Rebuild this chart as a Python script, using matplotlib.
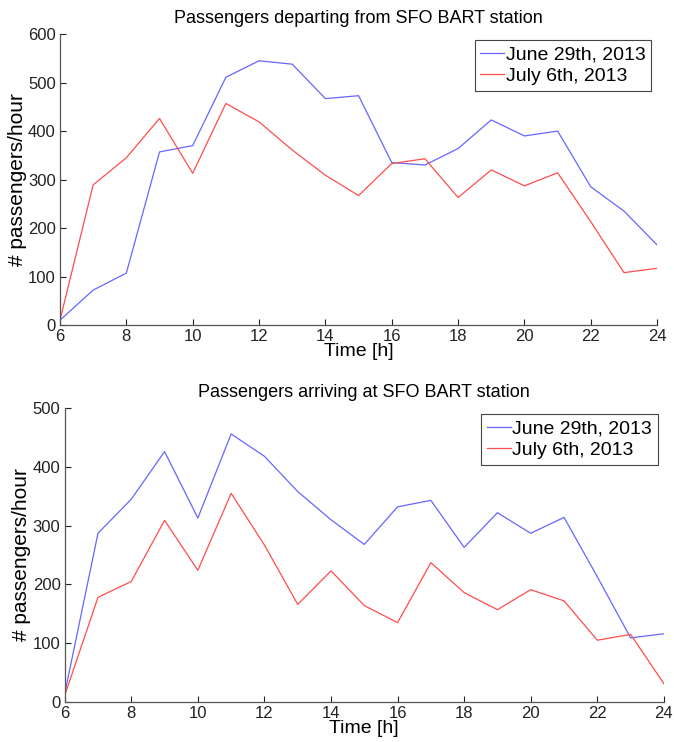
import matplotlib
matplotlib.use("Agg")
import matplotlib.pyplot as plt

plt.rcParams['font.family'] = ['Liberation Sans Narrow', 'Liberation Sans', 'DejaVu Sans']

hours = list(range(6, 25))

# departing from SFO
dep_june = [10, 72, 107, 357, 370, 511, 545, 538, 467, 473, 335, 330, 364, 423, 390, 400, 285, 235, 165]
dep_july = [10, 289, 345, 426, 313, 457, 419, 361, 309, 267, 333, 343, 263, 320, 287, 314, 213, 108, 117]

# arriving at SFO
arr_june = [14, 287, 345, 426, 313, 456, 418, 358, 310, 268, 332, 343, 263, 322, 287, 314, 213, 109, 116]
arr_july = [11, 178, 205, 309, 224, 355, 267, 166, 223, 164, 135, 237, 186, 157, 191, 172, 105, 115, 31]

titles = ["Passengers departing from SFO BART station",
          "Passengers arriving at SFO BART station"]
labels = ["June 29th, 2013", "July 6th, 2013"]
ymax = [600, 500]

blue = "#6666ff"
red = "#ff4d4d"

fig = plt.figure(figsize=(6.74, 7.42), dpi=100)
ax1 = fig.add_axes([0.089, 0.562, 0.886, 0.392])
ax2 = fig.add_axes([0.096, 0.054, 0.889, 0.396])

data = [(dep_june, dep_july), (arr_june, arr_july)]
for i, ax in enumerate([ax1, ax2]):
    june, july = data[i]
    ax.plot(hours, june, color=blue, lw=0.9, label=labels[0])
    ax.plot(hours, july, color=red, lw=0.9, label=labels[1])
    ax.set_xlim(6, 24)
    ax.set_ylim(0, ymax[i])
    ax.set_xticks(range(6, 25, 2))
    ax.set_yticks(range(0, ymax[i] + 1, 100))
    ax.tick_params(direction='in', length=4, labelsize=12, colors='#222222')
    ax.tick_params(axis='x', pad=3)
    ax.tick_params(axis='y', pad=3)
    for s in ['top', 'right']:
        ax.spines[s].set_visible(False)
    for s in ['left', 'bottom']:
        ax.spines[s].set_color('#555555')
        ax.spines[s].set_linewidth(0.9)
    ax.set_title(titles[i], fontsize=13, pad=8)
    ax.set_xlabel("Time [h]", fontsize=14, labelpad=-1)
    ax.set_ylabel("# passengers/hour", fontsize=15, labelpad=1)
    leg = ax.legend(loc='upper right', fontsize=14, handlelength=1.2, handletextpad=0.1,
                    borderpad=0.3, labelspacing=0.2, fancybox=False, framealpha=1,
                    borderaxespad=0.3)
    leg.get_frame().set_edgecolor('#444444')
    leg.get_frame().set_linewidth(0.8)

plt.savefig('out.png', dpi=100)
